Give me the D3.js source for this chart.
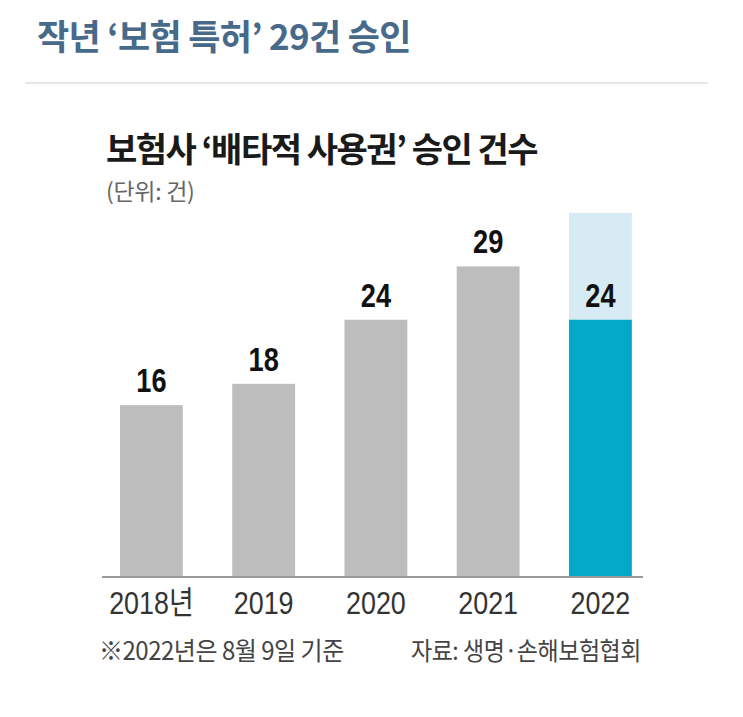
<!DOCTYPE html>
<html>
<head>
<meta charset="utf-8">
<script src="https://cdn.jsdelivr.net/npm/d3@7"></script>
<style>
  html, body { margin: 0; padding: 0; background: #fff; }
  svg { display: block; }
</style>
</head>
<body>
<script>
// ---- data ----
const years = ["2018년", "2019", "2020", "2021", "2022"];
const counts = [16, 18, 24, 29, 24];
const backdrop = [0, 0, 0, 0, 34];      // light band behind the 2022 bar
const highlight = [false, false, false, false, true];
const titleText = "작년 ‘보험 특허’ 29건 승인";
const subtitleText = "보험사 ‘배타적 사용권’ 승인 건수";
const unitText = "(단위: 건)";
const noteText = "※2022년은 8월 9일 기준";
const sourceText = "자료: 생명·손해보험협회";

const W = 743, H = 717;
const KR = "'Noto Sans CJK KR', 'Noto Sans', sans-serif";
const LAT = "'Liberation Sans', 'Noto Sans CJK KR', sans-serif";

const svg = d3.select("body").append("svg").attr("width", W).attr("height", H);

function squeezedText(parent, x, y, sx, anchor) {
  return parent.append("text")
    .attr("transform", `translate(${x},${y}) scale(${sx},1)`)
    .attr("text-anchor", anchor || "start");
}

// header
svg.append("text").attr("x", 37).attr("y", 50)
  .attr("font-family", KR).attr("font-weight", 700).attr("font-size", 35)
  .attr("letter-spacing", -0.7).attr("fill", "#47698a").text(titleText);
svg.append("line").attr("x1", 25).attr("x2", 708).attr("y1", 83).attr("y2", 83)
  .attr("stroke", "#e6e6e6").attr("stroke-width", 2);

svg.append("text").attr("x", 106).attr("y", 162)
  .attr("font-family", KR).attr("font-weight", 700).attr("font-size", 34)
  .attr("letter-spacing", -1.5).attr("fill", "#1a1a1a").text(subtitleText);
svg.append("text").attr("x", 106).attr("y", 200)
  .attr("font-family", KR).attr("font-size", 23)
  .attr("letter-spacing", -0.3).attr("fill", "#666").text(unitText);

// scales
const x = d3.scaleBand().domain(years).range([70.6, 681.2]).padding(0.44);
const y = d3.scaleLinear().domain([0, 34]).range([576, 213]);

const rows = years.map((yr, i) => ({ yr, v: counts[i], b: backdrop[i], hi: highlight[i] }));

// backdrop
svg.append("g").selectAll("rect").data(rows.filter(d => d.b > 0)).join("rect")
  .attr("x", d => x(d.yr)).attr("width", x.bandwidth())
  .attr("y", d => y(d.b)).attr("height", d => y(0) - y(d.b))
  .attr("fill", "#d6ebf3");

// bars
svg.append("g").selectAll("rect").data(rows).join("rect")
  .attr("x", d => x(d.yr)).attr("width", x.bandwidth())
  .attr("y", d => y(d.v)).attr("height", d => y(0) - y(d.v))
  .attr("fill", d => d.hi ? "#05a9c8" : "#bdbdbd");

// value labels
svg.append("g").selectAll("text").data(rows).join("text")
  .attr("transform", d => `translate(${x(d.yr) + x.bandwidth() / 2},${y(d.v) - 13}) scale(0.8,1)`)
  .attr("text-anchor", "middle")
  .attr("font-family", LAT)
  .attr("font-weight", 700).attr("font-size", 34).attr("fill", "#111")
  .text(d => d.v);

// axis
const axis = d3.axisBottom(x).tickSize(0).tickPadding(0);
const gx = svg.append("g").attr("transform", "translate(0,577)").call(axis);
gx.select(".domain").remove();
gx.append("line").attr("x1", 102).attr("x2", 643).attr("y1", 0).attr("y2", 0)
  .attr("stroke", "#9a9a9a").attr("stroke-width", 2);
gx.selectAll(".tick text")
  .attr("dy", 0).attr("y", 37)
  .attr("transform", "scale(0.84,1)")
  .attr("font-family", LAT)
  .attr("font-size", 32).attr("fill", "#333");

// footnotes
squeezedText(svg, 99, 660, 0.96).attr("font-family", KR).attr("font-size", 25)
  .attr("letter-spacing", -0.5).attr("fill", "#444").text(noteText);
squeezedText(svg, 641, 660, 0.92, "end").attr("font-family", KR).attr("font-size", 25)
  .attr("letter-spacing", -0.5).attr("fill", "#444").text(sourceText);
</script>
</body>
</html>
